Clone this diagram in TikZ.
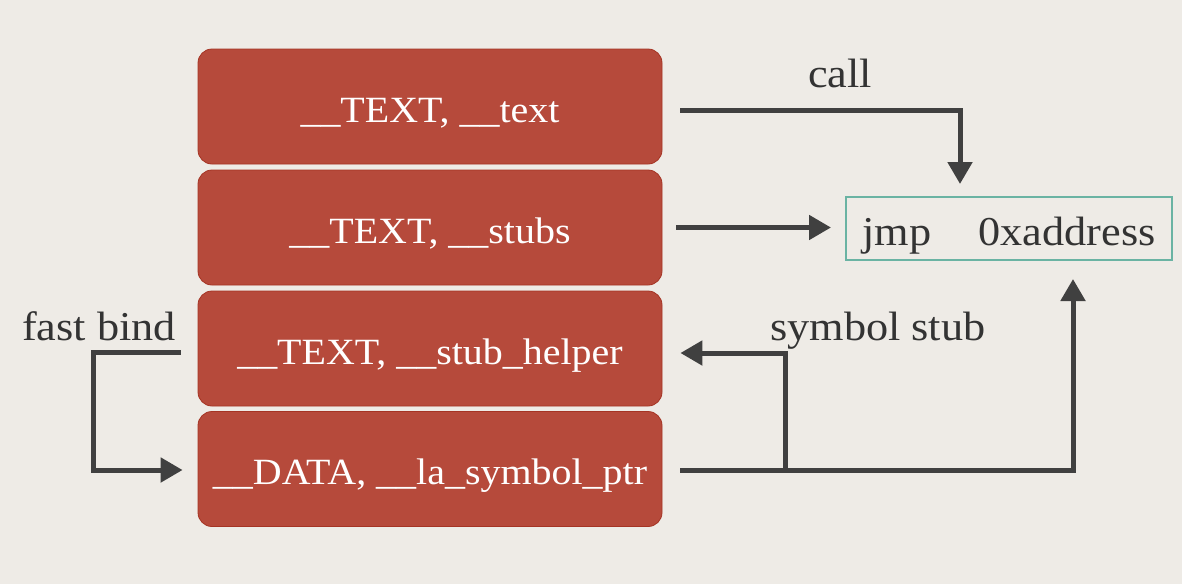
\documentclass[tikz,border=0pt]{standalone}
\usepackage{fontspec}
\setmainfont[FakeStretch=1.08]{Liberation Serif}
\usetikzlibrary{arrows.meta}
\definecolor{bgc}{HTML}{EEEBE6}
\definecolor{secfill}{HTML}{B64A3B}
\definecolor{secdraw}{HTML}{A53424}
\definecolor{arrc}{HTML}{404040}
\definecolor{tealc}{HTML}{6AB3A3}
\definecolor{labc}{HTML}{333333}
\tikzset{
  sect/.style={draw=secdraw, fill=secfill, line width=0.8pt, rounded corners=14pt,
    minimum width=464pt, minimum height=115pt, text=white, inner sep=0pt,
    text height=31pt, text depth=0pt,
    font=\fontsize{37}{42}\selectfont},
  flow/.style={draw=arrc, line width=5pt, -{Triangle[length=22pt,width=24pt]}},
  lab/.style={text=labc, font=\fontsize{41}{46}\selectfont, inner sep=0pt, anchor=base west},
  jbox/.style={draw=tealc, line width=2pt, minimum width=326pt, minimum height=63pt,
    inner sep=0pt, text=labc, text height=33pt, text depth=0pt,
    font=\fontsize{41}{44}\selectfont}
}
\begin{document}
\begin{tikzpicture}[x=1pt,y=-1pt]
\fill[bgc] (0,0) rectangle (1182,584);
\useasboundingbox (0,0) rectangle (1182,584);
\node[sect] (t1) at (430,106.5) {\_\_TEXT, \_\_text};
\node[sect] (t2) at (430,227.5) {\_\_TEXT, \_\_stubs};
\node[sect] (t3) at (430,348.5) {\_\_TEXT, \_\_stub\_helper};
\node[sect] (t4) at (430,469) {\_\_DATA, \_\_la\_symbol\_ptr};
\node[jbox] (jmp) at (1009,228.5) {jmp\hspace{1.15em}0xaddress};
\node[lab] (call) at (808,87) {call};
\node[lab] (fb) at (22,340) {fast bind};
\node[lab] (ss) at (770,340) {symbol stub};
% call
\coordinate (c1) at ([xshift=18pt]t1.east |- 0,110);
\coordinate (c2) at (960,110);
\coordinate (c3) at ([yshift=12pt]jmp.north -| c2);
\draw[flow] (c1) -- (c2) -- (c3);
% stubs
\draw[flow] ([xshift=14pt]t2.east) -- ([xshift=-14pt]jmp.west |- t2.east);
% fast bind
\coordinate (f1) at ([xshift=-17pt]t3.west |- 0,352);
\coordinate (f2) at (93,352);
\coordinate (f3) at (93,470);
\coordinate (f4) at ([xshift=-15pt]t4.west |- 0,470);
\draw[flow] (f1) -- (f2) -- (f3) -- (f4);
% data out
\coordinate (d1) at ([xshift=18pt]t4.east |- 0,470);
\coordinate (d2) at (785,470);
\coordinate (d3) at (1073,470);
\coordinate (d4) at ([yshift=-18pt]jmp.south -| d3);
\draw[flow] (d1) -- (d3) -- (d4);
\coordinate (s2) at (785,353);
\coordinate (s3) at ([xshift=18pt]t3.east |- s2);
\draw[flow] (d2) -- (s2) -- (s3);
\end{tikzpicture}
\end{document}
